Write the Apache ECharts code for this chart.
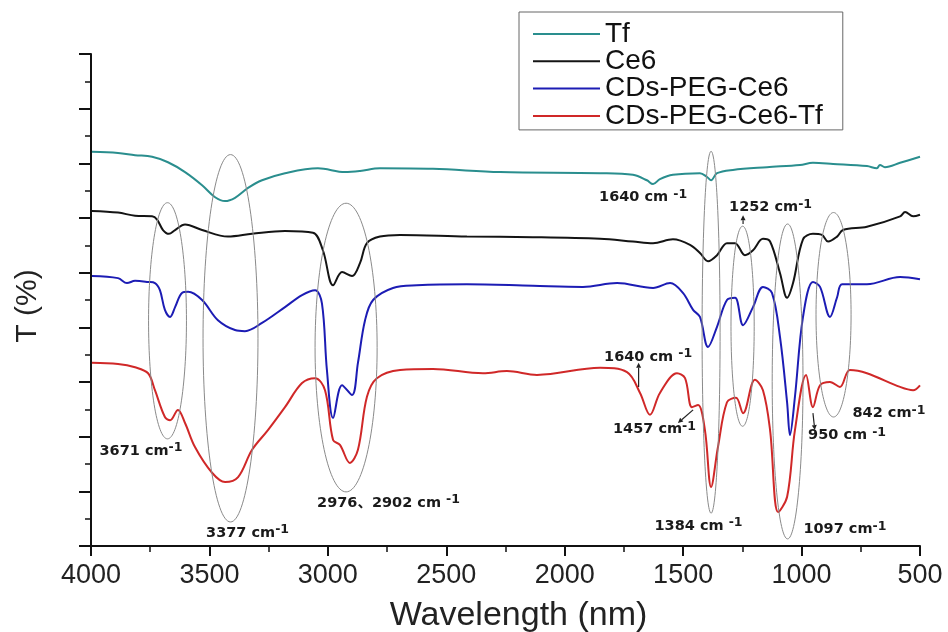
<!DOCTYPE html>
<html>
<head>
<meta charset="utf-8">
<script src="https://cdn.jsdelivr.net/npm/echarts@6/dist/echarts.min.js"></script>
<style>
  html, body { margin: 0; padding: 0; background: #fff; }
  #chart { width: 948px; height: 632px; }
</style>
</head>
<body>
<div id="chart"></div>
<script>
// FTIR spectra, [wavenumber (cm-1), transmittance (stacked, arbitrary units)]
const seriesNames = ['Tf', 'Ce6', 'CDs-PEG-Ce6', 'CDs-PEG-Ce6-Tf'];

const tf = [
  [3996, 7.21], [3886, 7.19], [3814, 7.15], [3742, 7.12], [3675, 7.02], [3603, 6.84],
  [3531, 6.60], [3476, 6.38], [3434, 6.31], [3392, 6.37], [3337, 6.55], [3278, 6.69],
  [3181, 6.82], [3042, 6.91], [2928, 6.84], [2864, 6.86], [2780, 6.91], [2556, 6.90],
  [2273, 6.84], [1851, 6.82], [1712, 6.79], [1653, 6.69], [1627, 6.62], [1598, 6.71],
  [1543, 6.79], [1429, 6.82], [1399, 6.75], [1382, 6.69], [1357, 6.82], [1290, 6.88],
  [1146, 6.93], [1007, 6.97], [952, 7.01], [867, 6.99], [724, 6.95], [682, 6.91],
  [669, 6.97], [648, 6.93], [584, 7.01], [500, 7.12]
];

const ce6 = [
  [3996, 6.13], [3886, 6.10], [3814, 6.04], [3742, 6.03], [3721, 5.97], [3696, 5.78],
  [3671, 5.71], [3645, 5.78], [3603, 5.88], [3531, 5.78], [3422, 5.66], [3320, 5.71],
  [3181, 5.76], [3063, 5.73], [3021, 5.41], [2978, 4.77], [2940, 5.01], [2898, 4.94],
  [2864, 5.18], [2835, 5.54], [2780, 5.66], [2695, 5.69], [2413, 5.66], [2134, 5.65],
  [1851, 5.62], [1712, 5.57], [1627, 5.54], [1543, 5.61], [1471, 5.51], [1429, 5.36],
  [1395, 5.21], [1357, 5.32], [1315, 5.54], [1281, 5.54], [1239, 5.32], [1205, 5.41],
  [1163, 5.62], [1133, 5.57], [1091, 4.99], [1061, 4.54], [1036, 4.81], [994, 5.61],
  [952, 5.71], [914, 5.69], [888, 5.57], [850, 5.66], [825, 5.78], [724, 5.84],
  [584, 6.03], [563, 6.11], [529, 6.03], [500, 6.06]
];

const cdsPegCe6 = [
  [3996, 4.94], [3886, 4.90], [3848, 4.81], [3814, 4.85], [3759, 4.83], [3730, 4.81],
  [3709, 4.68], [3688, 4.32], [3666, 4.19], [3645, 4.37], [3616, 4.63], [3590, 4.65],
  [3531, 4.50], [3464, 4.13], [3392, 3.95], [3350, 3.93], [3278, 4.08], [3181, 4.37],
  [3109, 4.59], [3054, 4.68], [3025, 4.44], [3004, 3.22], [2978, 2.34], [2940, 2.94],
  [2898, 2.76], [2873, 3.35], [2843, 4.13], [2809, 4.50], [2725, 4.72], [2624, 4.77],
  [2413, 4.79], [2134, 4.76], [1923, 4.74], [1779, 4.81], [1627, 4.72], [1555, 4.81],
  [1501, 4.63], [1458, 4.32], [1429, 4.19], [1395, 3.64], [1357, 4.01], [1315, 4.50],
  [1281, 4.54], [1247, 4.04], [1205, 4.37], [1163, 4.74], [1125, 4.63], [1091, 3.82],
  [1061, 2.62], [1049, 2.03], [1028, 2.73], [994, 4.19], [952, 4.83], [922, 4.74],
  [880, 4.19], [850, 4.55], [829, 4.79], [724, 4.79], [584, 4.92], [500, 4.88]
];

const cdsPegCe6Tf = [
  [3996, 3.35], [3886, 3.33], [3814, 3.27], [3759, 3.16], [3730, 2.85], [3688, 2.36],
  [3666, 2.30], [3633, 2.49], [3603, 2.25], [3561, 1.81], [3489, 1.34], [3434, 1.17],
  [3379, 1.26], [3320, 1.76], [3253, 2.12], [3181, 2.54], [3109, 2.98], [3054, 3.07],
  [3012, 2.85], [2978, 1.94], [2949, 1.85], [2907, 1.52], [2873, 1.76], [2835, 2.73],
  [2793, 3.07], [2695, 3.22], [2556, 3.24], [2345, 3.16], [2244, 3.20], [2117, 3.13],
  [1851, 3.26], [1737, 3.18], [1682, 2.80], [1640, 2.40], [1598, 2.80], [1526, 3.16],
  [1492, 3.07], [1463, 2.54], [1437, 2.58], [1408, 2.12], [1382, 1.08], [1353, 1.81],
  [1315, 2.63], [1277, 2.71], [1247, 2.43], [1197, 3.04], [1163, 2.85], [1133, 2.12],
  [1099, 0.62], [1061, 0.90], [1028, 2.12], [981, 3.13], [952, 2.54], [922, 2.94],
  [880, 3.00], [838, 2.91], [796, 3.22], [724, 3.16], [584, 2.91], [529, 2.85], [500, 2.94]
];

// Band groups outlined with ellipses: [centre wavenumber, centre T, half-width (cm-1), half-height (T)]
const bandEllipses = [
  [3677, 4.12, 80, 2.16],
  [3411, 3.80, 116, 3.36],
  [2923, 3.63, 131, 2.64],
  [1382, 3.91, 38, 3.31],
  [1249, 4.02, 49, 1.83],
  [1059, 3.01, 65, 2.88],
  [865, 4.23, 74, 1.87]
];

// Band labels: [value text, superscript, wavenumber, T]
const bandLabels = [
  ['1640 cm ', '-1', 1669, 6.38],
  ['1252 cm', '-1', 1131, 6.20],
  ['1640 cm ', '-1', 1648, 3.46],
  ['1457 cm', '-1', 1621, 2.14],
  ['950 cm ', '-1', 808, 2.03],
  ['842 cm', '-1', 631, 2.43],
  ['1384 cm ', '-1', 1435, 0.37],
  ['1097 cm', '-1', 817, 0.31],
  ['3671 cm', '-1', 3789, 1.74],
  ['3377 cm', '-1', 3339, 0.24],
  ['2976\u30012902 cm ', '-1', 2744, 0.79]
];

// Pointer arrows: [from wavenumber, from T, to wavenumber, to T]
const bandArrows = [
  [1247, 5.89, 1247, 6.05],
  [1688, 2.91, 1688, 3.35],
  [1458, 2.49, 1522, 2.25],
  [952, 2.43, 944, 2.12]
];

const colors = ['#2a8e8e', '#141414', '#1c1cb4', '#d02828'];
const seriesData = [tf, ce6, cdsPegCe6, cdsPegCe6Tf];

const chart = echarts.init(document.getElementById('chart'), null, { renderer: 'canvas' });

const axisColor = '#111';
chart.setOption({
  animation: false,
  backgroundColor: '#fff',
  grid: { left: 91, right: 28, top: 54, bottom: 86, containLabel: false, outerBoundsMode: 'none' },
  legend: {
    orient: 'vertical',
    left: 519,
    top: 12,
    padding: [8, 20, 0, 14],
    itemGap: -0.7,
    icon: 'rect',
    itemWidth: 67,
    itemHeight: 2,
    borderColor: '#666',
    borderWidth: 1,
    textStyle: { fontSize: 28, lineHeight: 26, height: 26, fontFamily: 'Liberation Sans', color: '#111' },
    data: seriesNames
  },
  xAxis: {
    type: 'value',
    min: 500,
    max: 4000,
    interval: 500,
    inverse: true,
    axisLine: { show: true, onZero: false, lineStyle: { color: axisColor, width: 2 } },
    axisTick: { show: true, inside: false, length: 10, lineStyle: { color: axisColor, width: 2 } },
    minorTick: { show: true, splitNumber: 2, length: 6, lineStyle: { color: axisColor, width: 1.5 } },
    splitLine: { show: false },
    axisLabel: {
      fontSize: 27, color: '#222', margin: 16, fontFamily: 'Liberation Sans',
      formatter: (v) => String(v)
    },
    name: 'Wavelength (nm)',
    nameLocation: 'middle',
    nameGap: 53,
    nameTextStyle: { fontSize: 34, color: '#222', fontFamily: 'Liberation Sans', padding: [0, 0, 0, 26] }
  },
  yAxis: {
    type: 'value',
    min: 0,
    max: 9,
    interval: 1,
    axisLine: { show: true, onZero: false, lineStyle: { color: axisColor, width: 2 } },
    axisTick: { show: true, inside: false, length: 12, lineStyle: { color: axisColor, width: 2 } },
    minorTick: { show: true, splitNumber: 2, length: 6, lineStyle: { color: axisColor, width: 1.5 } },
    axisLabel: { show: false },
    splitLine: { show: false },
    name: 'T (%)',
    nameLocation: 'middle',
    nameRotate: 90,
    nameGap: 48,
    nameTextStyle: { fontSize: 30, color: '#222', fontFamily: 'Liberation Sans', padding: [0, 12, 0, 0] }
  },
  series: seriesNames.map((name, i) => ({
    name,
    type: 'line',
    data: seriesData[i],
    symbol: 'none',
    smooth: 0.35,
    color: colors[i],
    lineStyle: { color: colors[i], width: 2 },
    z: 3 + i
  }))
});

// Annotation layer: ellipses, band labels and arrows placed through the grid's own scales
function toPx(w, t) {
  return chart.convertToPixel({ gridIndex: 0 }, [w, t]);
}

function buildAnnotations() {
  const els = [];
  bandEllipses.forEach(([cw, ct, hw, ht]) => {
    const c = toPx(cw, ct);
    const ex = toPx(cw - hw, ct);
    const ey = toPx(cw, ct + ht);
    els.push({
      type: 'ellipse',
      silent: true,
      z: 10,
      shape: { cx: c[0], cy: c[1], rx: Math.abs(ex[0] - c[0]), ry: Math.abs(ey[1] - c[1]) },
      style: { fill: null, stroke: '#8a8a8a', lineWidth: 1 }
    });
  });

  const labelFont = 'DejaVu Sans, Noto Sans CJK SC, sans-serif';
  bandLabels.forEach(([main, sup, w, t]) => {
    const p = toPx(w, t);
    els.push({
      type: 'text',
      silent: true,
      z: 12,
      x: p[0],
      y: p[1],
      style: {
        text: '{a|' + main + '}{s|' + sup + '}',
        align: 'center',
        verticalAlign: 'middle',
        rich: {
          a: { fontSize: 14.5, fontWeight: 'bold', fontFamily: labelFont, fill: '#1a1a1a', lineHeight: 18 },
          s: { fontSize: 12.5, fontWeight: 'bold', fontFamily: labelFont, fill: '#1a1a1a', lineHeight: 12, verticalAlign: 'top' }
        }
      }
    });
  });

  bandArrows.forEach(([w1, t1, w2, t2]) => {
    const a = toPx(w1, t1);
    const b = toPx(w2, t2);
    const dx = b[0] - a[0], dy = b[1] - a[1];
    const len = Math.hypot(dx, dy) || 1;
    const ux = dx / len, uy = dy / len;
    const head = 5, half = 2.5;
    const bx = b[0] - ux * head, by = b[1] - uy * head;
    els.push({
      type: 'line',
      silent: true,
      z: 12,
      shape: { x1: a[0], y1: a[1], x2: bx, y2: by },
      style: { stroke: '#222', lineWidth: 1.2 }
    });
    els.push({
      type: 'polygon',
      silent: true,
      z: 12,
      shape: { points: [[b[0], b[1]], [bx - uy * half, by + ux * half], [bx + uy * half, by - ux * half]] },
      style: { fill: '#222' }
    });
  });
  return els;
}

chart.setOption({ graphic: { elements: buildAnnotations() } });
</script>
</body>
</html>
